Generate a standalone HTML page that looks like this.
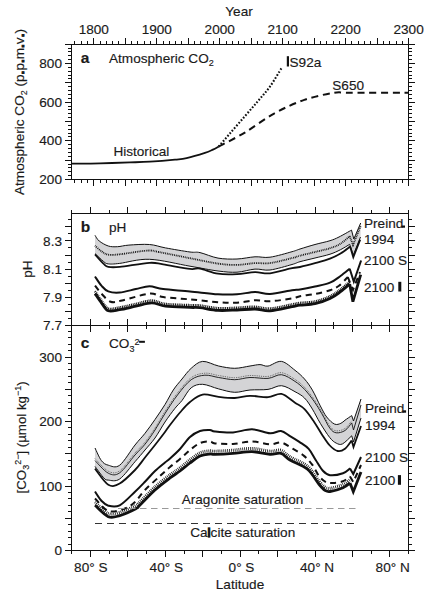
<!DOCTYPE html>
<html><head><meta charset="utf-8"><style>
html,body{margin:0;padding:0;background:#fff;}
svg{display:block;}
text{font-family:"Liberation Sans",sans-serif;fill:#1a1a1a;stroke:#1a1a1a;stroke-width:0.15px;}
</style></head><body>
<svg width="437" height="600" viewBox="0 0 437 600">
<rect width="437" height="600" fill="#fff"/>
<path d="M72,44.5H408 M72,179.5H408 M71.5,44V180 M408.5,44V180 M72,213.5H408 M72,325.5H408 M71.5,214V326 M408.5,214V326 M72,325.5H408 M72,550.5H408 M71.5,326V550 M408.5,326V550 M74.5,41V44 M74.5,180V183 M81.5,41V44 M81.5,180V183 M87.5,41V44 M87.5,180V183 M93.5,38V44 M93.5,180V186 M100.5,41V44 M100.5,180V183 M106.5,41V44 M106.5,180V183 M112.5,41V44 M112.5,180V183 M118.5,41V44 M118.5,180V183 M125.5,38V44 M125.5,180V186 M131.5,41V44 M131.5,180V183 M137.5,41V44 M137.5,180V183 M144.5,41V44 M144.5,180V183 M150.5,41V44 M150.5,180V183 M156.5,38V44 M156.5,180V186 M163.5,41V44 M163.5,180V183 M169.5,41V44 M169.5,180V183 M175.5,41V44 M175.5,180V183 M181.5,41V44 M181.5,180V183 M188.5,38V44 M188.5,180V186 M194.5,41V44 M194.5,180V183 M200.5,41V44 M200.5,180V183 M207.5,41V44 M207.5,180V183 M213.5,41V44 M213.5,180V183 M219.5,38V44 M219.5,180V186 M226.5,41V44 M226.5,180V183 M232.5,41V44 M232.5,180V183 M238.5,41V44 M238.5,180V183 M244.5,41V44 M244.5,180V183 M251.5,38V44 M251.5,180V186 M257.5,41V44 M257.5,180V183 M263.5,41V44 M263.5,180V183 M270.5,41V44 M270.5,180V183 M276.5,41V44 M276.5,180V183 M282.5,38V44 M282.5,180V186 M288.5,41V44 M288.5,180V183 M295.5,41V44 M295.5,180V183 M301.5,41V44 M301.5,180V183 M307.5,41V44 M307.5,180V183 M314.5,38V44 M314.5,180V186 M320.5,41V44 M320.5,180V183 M326.5,41V44 M326.5,180V183 M333.5,41V44 M333.5,180V183 M339.5,41V44 M339.5,180V183 M345.5,38V44 M345.5,180V186 M351.5,41V44 M351.5,180V183 M358.5,41V44 M358.5,180V183 M364.5,41V44 M364.5,180V183 M370.5,41V44 M370.5,180V183 M377.5,38V44 M377.5,180V186 M383.5,41V44 M383.5,180V183 M389.5,41V44 M389.5,180V183 M396.5,41V44 M396.5,180V183 M402.5,41V44 M402.5,180V183 M408.5,38V44 M408.5,180V186 M65,179.5H72 M408,179.5H415 M68,175.5H72 M408,175.5H412 M68,171.5H72 M408,171.5H412 M68,167.5H72 M408,167.5H412 M68,164.5H72 M408,164.5H412 M65,160.5H72 M408,160.5H415 M68,156.5H72 M408,156.5H412 M68,152.5H72 M408,152.5H412 M68,148.5H72 M408,148.5H412 M68,144.5H72 M408,144.5H412 M65,140.5H72 M408,140.5H415 M68,136.5H72 M408,136.5H412 M68,133.5H72 M408,133.5H412 M68,129.5H72 M408,129.5H412 M68,125.5H72 M408,125.5H412 M65,121.5H72 M408,121.5H415 M68,117.5H72 M408,117.5H412 M68,113.5H72 M408,113.5H412 M68,109.5H72 M408,109.5H412 M68,106.5H72 M408,106.5H412 M65,102.5H72 M408,102.5H415 M68,98.5H72 M408,98.5H412 M68,94.5H72 M408,94.5H412 M68,90.5H72 M408,90.5H412 M68,86.5H72 M408,86.5H412 M65,82.5H72 M408,82.5H415 M68,78.5H72 M408,78.5H412 M68,75.5H72 M408,75.5H412 M68,71.5H72 M408,71.5H412 M68,67.5H72 M408,67.5H412 M65,63.5H72 M408,63.5H415 M68,59.5H72 M408,59.5H412 M68,55.5H72 M408,55.5H412 M68,51.5H72 M408,51.5H412 M68,48.5H72 M408,48.5H412 M65,44.5H72 M408,44.5H415 M71.5,210V214 M71.5,322V329 M71.5,550V554 M90.5,207V214 M90.5,319V332 M90.5,550V557 M109.5,210V214 M109.5,322V329 M109.5,550V554 M127.5,207V214 M127.5,319V332 M127.5,550V557 M146.5,210V214 M146.5,322V329 M146.5,550V554 M165.5,207V214 M165.5,319V332 M165.5,550V557 M184.5,210V214 M184.5,322V329 M184.5,550V554 M202.5,207V214 M202.5,319V332 M202.5,550V557 M221.5,210V214 M221.5,322V329 M221.5,550V554 M240.5,207V214 M240.5,319V332 M240.5,550V557 M258.5,210V214 M258.5,322V329 M258.5,550V554 M277.5,207V214 M277.5,319V332 M277.5,550V557 M296.5,210V214 M296.5,322V329 M296.5,550V554 M315.5,207V214 M315.5,319V332 M315.5,550V557 M333.5,210V214 M333.5,322V329 M333.5,550V554 M352.5,207V214 M352.5,319V332 M352.5,550V557 M371.5,210V214 M371.5,322V329 M371.5,550V554 M389.5,207V214 M389.5,319V332 M389.5,550V557 M408.5,210V214 M408.5,322V329 M408.5,550V554 M65,325.5H72 M408,325.5H415 M68,318.5H72 M408,318.5H412 M65,311.5H72 M408,311.5H415 M68,304.5H72 M408,304.5H412 M65,297.5H72 M408,297.5H415 M68,290.5H72 M408,290.5H412 M65,283.5H72 M408,283.5H415 M68,276.5H72 M408,276.5H412 M65,269.5H72 M408,269.5H415 M68,262.5H72 M408,262.5H412 M65,255.5H72 M408,255.5H415 M68,247.5H72 M408,247.5H412 M65,240.5H72 M408,240.5H415 M68,233.5H72 M408,233.5H412 M65,226.5H72 M408,226.5H415 M68,219.5H72 M408,219.5H412 M65,550.5H72 M408,550.5H415 M68,544.5H72 M408,544.5H412 M68,537.5H72 M408,537.5H412 M68,531.5H72 M408,531.5H412 M68,524.5H72 M408,524.5H412 M65,518.5H72 M408,518.5H415 M68,511.5H72 M408,511.5H412 M68,505.5H72 M408,505.5H412 M68,498.5H72 M408,498.5H412 M68,492.5H72 M408,492.5H412 M65,486.5H72 M408,486.5H415 M68,479.5H72 M408,479.5H412 M68,473.5H72 M408,473.5H412 M68,466.5H72 M408,466.5H412 M68,460.5H72 M408,460.5H412 M65,453.5H72 M408,453.5H415 M68,447.5H72 M408,447.5H412 M68,440.5H72 M408,440.5H412 M68,434.5H72 M408,434.5H412 M68,427.5H72 M408,427.5H412 M65,421.5H72 M408,421.5H415 M68,415.5H72 M408,415.5H412 M68,408.5H72 M408,408.5H412 M68,402.5H72 M408,402.5H412 M68,395.5H72 M408,395.5H412 M65,389.5H72 M408,389.5H415 M68,382.5H72 M408,382.5H412 M68,376.5H72 M408,376.5H412 M68,369.5H72 M408,369.5H412 M68,363.5H72 M408,363.5H412 M65,357.5H72 M408,357.5H415 M68,350.5H72 M408,350.5H412 M68,344.5H72 M408,344.5H412 M68,337.5H72 M408,337.5H412 M68,331.5H72 M408,331.5H412" fill="none" stroke="#111" stroke-width="1"/>
<path d="M72,163.6 C76.67,163.55 90.33,163.5 100,163.3 C109.67,163.1 121.67,162.68 130,162.4 C138.33,162.12 142.5,162.07 150,161.6 C157.5,161.13 168.9,160.18 175,159.6 C181.1,159.02 181.62,159.22 186.6,158.1 C191.58,156.98 200.52,154.32 204.9,152.9 C209.28,151.48 210.62,150.65 212.9,149.6 C215.18,148.55 217.65,147.1 218.6,146.6" fill="none" stroke="#111" stroke-width="1.8"/>
<path d="M218.6,146.6 C220.5,144.4 225.63,138.45 230,133.4 C234.37,128.35 240.13,121.7 244.8,116.3 C249.47,110.9 253.8,105.97 258,101 C262.2,96.03 266.05,92.03 270,86.5 C273.95,80.97 279.75,70.92 281.7,67.8" fill="none" stroke="#111" stroke-width="2.1" stroke-dasharray="1.7 1.7"/>
<path d="M218.6,146.6 C222.97,144.27 235.48,138.15 244.8,132.6 C254.12,127.05 264.58,118.75 274.5,113.3 C284.42,107.85 294.38,103.32 304.3,99.9 C314.22,96.48 326.38,93.98 334,92.8 C341.62,91.62 337.5,92.8 350,92.8 C362.5,92.8 399.17,92.8 409,92.8" fill="none" stroke="#111" stroke-width="2" stroke-dasharray="7 4.7"/>
<path d="M95,235.3 C95.7,236.25 96.98,239.22 99.2,241 C101.42,242.78 105.25,245.05 108.3,246 C111.35,246.95 114.07,246.85 117.5,246.7 C120.93,246.55 123.57,245.47 128.9,245.1 C134.23,244.73 143.4,244.03 149.5,244.5 C155.6,244.97 158.75,246.65 165.5,247.9 C172.25,249.15 184.25,251.22 190,252 C195.75,252.78 195.33,251.58 200,252.6 C204.67,253.62 211.83,257.03 218,258.1 C224.17,259.17 230.83,259.22 237,259 C243.17,258.78 249.5,257.1 255,256.8 C260.5,256.5 263.83,258.05 270,257.2 C276.17,256.35 287,253.07 292,251.7 C297,250.33 296.17,250.2 300,249 C303.83,247.8 310,245.88 315,244.5 C320,243.12 326,241.95 330,240.7 C334,239.45 335.42,238.77 339,237 C342.58,235.23 349.42,231.25 351.5,230.1 L353.8,239 L360.7,223 L360.5,237 L353.3,255 L349.7,244.3 L349.7,244.3 C348.17,245.2 343.78,248.05 340.5,249.7 C337.22,251.35 334.25,252.82 330,254.2 C325.75,255.58 320,256.75 315,258 C310,259.25 303.83,260.62 300,261.7 C296.17,262.78 297,263.12 292,264.5 C287,265.88 276.17,269.23 270,270 C263.83,270.77 260.5,268.73 255,269.1 C249.5,269.47 243.17,271.88 237,272.2 C230.83,272.52 225.83,272 218,271 C210.17,270 201.42,268.15 190,266.2 C178.58,264.25 161.22,259.77 149.5,259.3 C137.78,258.83 126.57,262.63 119.7,263.4 C112.83,264.17 110.97,264.2 108.3,263.9 C105.63,263.6 105.92,263.32 103.7,261.6 C101.48,259.88 96.45,254.93 95,253.6 Z" fill="#d4d4d6" stroke="none"/>
<path d="M95,235.3 C95.7,236.25 96.98,239.22 99.2,241 C101.42,242.78 105.25,245.05 108.3,246 C111.35,246.95 114.07,246.85 117.5,246.7 C120.93,246.55 123.57,245.47 128.9,245.1 C134.23,244.73 143.4,244.03 149.5,244.5 C155.6,244.97 158.75,246.65 165.5,247.9 C172.25,249.15 184.25,251.22 190,252 C195.75,252.78 195.33,251.58 200,252.6 C204.67,253.62 211.83,257.03 218,258.1 C224.17,259.17 230.83,259.22 237,259 C243.17,258.78 249.5,257.1 255,256.8 C260.5,256.5 263.83,258.05 270,257.2 C276.17,256.35 287,253.07 292,251.7 C297,250.33 296.17,250.2 300,249 C303.83,247.8 310,245.88 315,244.5 C320,243.12 326,241.95 330,240.7 C334,239.45 335.42,238.77 339,237 C342.58,235.23 349.42,231.25 351.5,230.1 M351.5,230.1 L353.8,239 L360.7,223" fill="none" stroke="#111" stroke-width="1" stroke-linejoin="miter"/>
<path d="M95,253.6 C96.45,254.93 101.48,259.88 103.7,261.6 C105.92,263.32 105.63,263.6 108.3,263.9 C110.97,264.2 112.83,264.17 119.7,263.4 C126.57,262.63 137.78,258.83 149.5,259.3 C161.22,259.77 178.58,264.25 190,266.2 C201.42,268.15 210.17,270 218,271 C225.83,272 230.83,272.52 237,272.2 C243.17,271.88 249.5,269.47 255,269.1 C260.5,268.73 263.83,270.77 270,270 C276.17,269.23 287,265.88 292,264.5 C297,263.12 296.17,262.78 300,261.7 C303.83,260.62 310,259.25 315,258 C320,256.75 325.75,255.58 330,254.2 C334.25,252.82 337.22,251.35 340.5,249.7 C343.78,248.05 348.17,245.2 349.7,244.3 M349.7,244.3 L353.3,255 L360.5,237" fill="none" stroke="#111" stroke-width="1" stroke-linejoin="miter"/>
<path d="M95,245.6 C96.07,246.55 99.18,249.78 101.4,251.3 C103.62,252.82 105.25,254.2 108.3,254.7 C111.35,255.2 113.22,254.98 119.7,254.3 C126.18,253.62 140.72,250.98 147.2,250.6 C153.68,250.22 151.47,250.73 158.6,252 C165.73,253.27 180.1,256.27 190,258.2 C199.9,260.13 210.17,262.48 218,263.6 C225.83,264.72 230.83,264.98 237,264.9 C243.17,264.82 249.5,263.4 255,263.1 C260.5,262.8 263.83,263.93 270,263.1 C276.17,262.27 287,259.33 292,258.1 C297,256.87 296.17,256.72 300,255.7 C303.83,254.68 310,253.25 315,252 C320,250.75 325.75,249.58 330,248.2 C334.25,246.82 337.22,245.72 340.5,243.7 C343.78,241.68 348.17,237.37 349.7,236.1 M349.7,236.1 L353,245 L360.7,226" fill="none" stroke="#111" stroke-width="1.8" stroke-linejoin="miter" stroke-dasharray="0.9 0.9"/>
<path d="M95,254.3 C96.45,255.9 101.48,261.8 103.7,263.9 C105.92,266 105.63,266.4 108.3,266.9 C110.97,267.4 112.83,267.58 119.7,266.9 C126.57,266.22 142.25,263.22 149.5,262.8 C156.75,262.38 156.45,263.38 163.2,264.4 C169.95,265.42 183.87,268.2 190,268.9 C196.13,269.6 195.33,267.8 200,268.6 C204.67,269.4 211.83,272.78 218,273.7 C224.17,274.62 230.83,274.35 237,274.1 C243.17,273.85 249.5,272.33 255,272.2 C260.5,272.07 263.83,273.97 270,273.3 C276.17,272.63 287,269.25 292,268.2 C297,267.15 296.17,267.83 300,267 C303.83,266.17 310,264.58 315,263.2 C320,261.82 325.75,260.32 330,258.7 C334.25,257.08 337.15,255.52 340.5,253.5 C343.85,251.48 348.5,247.75 350.1,246.6 M350.1,246.6 L353.3,257.2 L360.2,239.7" fill="none" stroke="#111" stroke-width="1.8" stroke-linejoin="miter"/>
<path d="M95,276.5 C96.07,278.02 99.18,283.12 101.4,285.6 C103.62,288.08 105.25,290.25 108.3,291.4 C111.35,292.55 115.12,292.88 119.7,292.5 C124.28,292.12 130.83,290.13 135.8,289.1 C140.77,288.07 144.93,286.3 149.5,286.3 C154.07,286.3 156.45,288.25 163.2,289.1 C169.95,289.95 180.87,290.53 190,291.4 C199.13,292.27 210.17,293.82 218,294.3 C225.83,294.78 230.83,294.68 237,294.3 C243.17,293.92 249.5,292.07 255,292 C260.5,291.93 263.83,294.2 270,293.9 C276.17,293.6 287,290.93 292,290.2 C297,289.47 296.17,290.12 300,289.5 C303.83,288.88 310,287.63 315,286.5 C320,285.37 325.75,284.45 330,282.7 C334.25,280.95 337.22,278.33 340.5,276 C343.78,273.67 348.17,269.92 349.7,268.7 M349.7,268.7 L353.8,281.6 L361.1,260.5" fill="none" stroke="#111" stroke-width="2" stroke-linejoin="miter"/>
<path d="M95,285.6 C96.07,286.93 98.8,290.92 101.4,293.6 C104,296.28 107.17,300.55 110.6,301.7 C114.03,302.85 115.52,301.85 122,300.5 C128.48,299.15 142.63,294.17 149.5,293.6 C156.37,293.03 156.45,296.13 163.2,297.1 C169.95,298.07 180.87,298.55 190,299.4 C199.13,300.25 210.17,301.65 218,302.2 C225.83,302.75 230.83,303.02 237,302.7 C243.17,302.38 249.5,300.55 255,300.3 C260.5,300.05 263.83,301.5 270,301.2 C276.17,300.9 287,299.33 292,298.5 C297,297.67 296.17,296.95 300,296.2 C303.83,295.45 310,295 315,294 C320,293 326,291.58 330,290.2 C334,288.82 336.03,287.9 339,285.7 C341.97,283.5 346.33,278.45 347.8,277 M347.8,277 L353,290 L360,272" fill="none" stroke="#111" stroke-width="2" stroke-linejoin="miter" stroke-dasharray="6 4.5"/>
<path d="M95,293.6 C96.07,295.13 99.18,299.93 101.4,302.8 C103.62,305.67 105.25,309.65 108.3,310.8 C111.35,311.95 115.12,310.47 119.7,309.7 C124.28,308.93 130.45,307.35 135.8,306.2 C141.15,305.05 146.85,302.8 151.8,302.8 C156.75,302.8 159.13,305.43 165.5,306.2 C171.87,306.97 184.25,307.15 190,307.4 C195.75,307.65 195.33,307.2 200,307.7 C204.67,308.2 211.83,310.02 218,310.4 C224.17,310.78 230.83,310.23 237,310 C243.17,309.77 249.5,308.87 255,309 C260.5,309.13 263.83,311.18 270,310.8 C276.17,310.42 287,307.63 292,306.7 C297,305.77 296.17,305.7 300,305.2 C303.83,304.7 310,304.82 315,303.7 C320,302.58 325.75,300.5 330,298.5 C334.25,296.5 337.22,294.13 340.5,291.7 C343.78,289.27 348.17,285.2 349.7,283.9 M349.7,283.9 L352.9,301.7 L360.7,274.7" fill="none" stroke="#111" stroke-width="2.8" stroke-linejoin="miter"/>
<path d="M95,291.3 C96.07,292.83 99.18,297.63 101.4,300.5 C103.62,303.37 105.25,307.35 108.3,308.5 C111.35,309.65 115.12,308.17 119.7,307.4 C124.28,306.63 130.45,305.05 135.8,303.9 C141.15,302.75 146.85,300.5 151.8,300.5 C156.75,300.5 159.13,303.13 165.5,303.9 C171.87,304.67 184.25,304.85 190,305.1 C195.75,305.35 195.33,304.9 200,305.4 C204.67,305.9 211.83,307.72 218,308.1 C224.17,308.48 230.83,307.93 237,307.7 C243.17,307.47 249.5,306.57 255,306.7 C260.5,306.83 263.83,308.88 270,308.5 C276.17,308.12 287,305.33 292,304.4 C297,303.47 296.17,303.4 300,302.9 C303.83,302.4 310,302.52 315,301.4 C320,300.28 325.75,298.2 330,296.2 C334.25,294.2 337.22,291.83 340.5,289.4 C343.78,286.97 348.17,282.9 349.7,281.6" fill="none" stroke="#111" stroke-width="2.4" stroke-linejoin="miter" stroke-dasharray="1 0.8"/>
<path d="M95,448 C96.07,450.1 99.18,457.73 101.4,460.6 C103.62,463.47 105.25,464.43 108.3,465.2 C111.35,465.97 115.25,468.57 119.7,465.2 C124.15,461.83 130.78,450.32 135,445 C139.22,439.68 141.67,437.55 145,433.3 C148.33,429.05 151.67,424.3 155,419.5 C158.33,414.7 161.95,409.42 165,404.5 C168.05,399.58 170.47,394.25 173.3,390 C176.13,385.75 179.02,382.62 182,379 C184.98,375.38 187.77,371.23 191.2,368.3 C194.63,365.37 198.03,361.78 202.6,361.4 C207.17,361.02 213.25,364.85 218.6,366 C223.95,367.15 229.47,368.3 234.7,368.3 C239.93,368.3 245.78,366.62 250,366 C254.22,365.38 257,364.58 260,364.6 C263,364.62 264.42,366.63 268,366.1 C271.58,365.57 277,360.7 281.5,361.4 C286,362.1 291.17,367.37 295,370.3 C298.83,373.23 301.6,375.7 304.5,379 C307.4,382.3 309.77,385.62 312.4,390.1 C315.03,394.58 317.92,401.42 320.3,405.9 C322.68,410.38 324.32,413.97 326.7,417 C329.08,420.03 332.23,423.05 334.6,424.1 C336.97,425.15 339.17,423.95 340.9,423.3 C342.63,422.65 343.2,421.48 345,420.2 C346.8,418.92 350.58,416.37 351.7,415.6 L353.5,421 L361,399 L361,418 L353.5,442 L351.7,435.8 L351.7,435.8 C350.17,437.15 345.08,442.68 342.5,443.9 C339.92,445.12 338.32,444.15 336.2,443.1 C334.08,442.05 332.45,440.9 329.8,437.6 C327.15,434.3 323.2,428.05 320.3,423.3 C317.4,418.55 315.03,413.32 312.4,409.1 C309.77,404.88 307.4,400.9 304.5,398 C301.6,395.1 298.83,393.75 295,391.7 C291.17,389.65 286,386.08 281.5,385.7 C277,385.32 273.25,388.68 268,389.4 C262.75,390.12 255.55,389.52 250,390 C244.45,390.48 239.93,392.48 234.7,392.3 C229.47,392.12 223.95,390.23 218.6,388.9 C213.25,387.57 207.17,384.48 202.6,384.3 C198.03,384.12 194.63,385.1 191.2,387.8 C187.77,390.5 184.7,397.08 182,400.5 C179.3,403.92 177.83,404.72 175,408.3 C172.17,411.88 168.33,417.05 165,422 C161.67,426.95 158.33,433.33 155,438 C151.67,442.67 148.33,446.05 145,450 C141.67,453.95 139.22,456.87 135,461.7 C130.78,466.53 124.15,475.93 119.7,479 C115.25,482.07 110.97,480.3 108.3,480.1 C105.63,479.9 105.92,480.08 103.7,477.8 C101.48,475.52 96.45,468.3 95,466.4 Z" fill="#d4d4d6" stroke="none"/>
<path d="M95,448 C96.07,450.1 99.18,457.73 101.4,460.6 C103.62,463.47 105.25,464.43 108.3,465.2 C111.35,465.97 115.25,468.57 119.7,465.2 C124.15,461.83 130.78,450.32 135,445 C139.22,439.68 141.67,437.55 145,433.3 C148.33,429.05 151.67,424.3 155,419.5 C158.33,414.7 161.95,409.42 165,404.5 C168.05,399.58 170.47,394.25 173.3,390 C176.13,385.75 179.02,382.62 182,379 C184.98,375.38 187.77,371.23 191.2,368.3 C194.63,365.37 198.03,361.78 202.6,361.4 C207.17,361.02 213.25,364.85 218.6,366 C223.95,367.15 229.47,368.3 234.7,368.3 C239.93,368.3 245.78,366.62 250,366 C254.22,365.38 257,364.58 260,364.6 C263,364.62 264.42,366.63 268,366.1 C271.58,365.57 277,360.7 281.5,361.4 C286,362.1 291.17,367.37 295,370.3 C298.83,373.23 301.6,375.7 304.5,379 C307.4,382.3 309.77,385.62 312.4,390.1 C315.03,394.58 317.92,401.42 320.3,405.9 C322.68,410.38 324.32,413.97 326.7,417 C329.08,420.03 332.23,423.05 334.6,424.1 C336.97,425.15 339.17,423.95 340.9,423.3 C342.63,422.65 343.2,421.48 345,420.2 C346.8,418.92 350.58,416.37 351.7,415.6 M351.7,415.6 L353.5,421 L361,399" fill="none" stroke="#111" stroke-width="1" stroke-linejoin="miter"/>
<path d="M95,466.4 C96.45,468.3 101.48,475.52 103.7,477.8 C105.92,480.08 105.63,479.9 108.3,480.1 C110.97,480.3 115.25,482.07 119.7,479 C124.15,475.93 130.78,466.53 135,461.7 C139.22,456.87 141.67,453.95 145,450 C148.33,446.05 151.67,442.67 155,438 C158.33,433.33 161.67,426.95 165,422 C168.33,417.05 172.17,411.88 175,408.3 C177.83,404.72 179.3,403.92 182,400.5 C184.7,397.08 187.77,390.5 191.2,387.8 C194.63,385.1 198.03,384.12 202.6,384.3 C207.17,384.48 213.25,387.57 218.6,388.9 C223.95,390.23 229.47,392.12 234.7,392.3 C239.93,392.48 244.45,390.48 250,390 C255.55,389.52 262.75,390.12 268,389.4 C273.25,388.68 277,385.32 281.5,385.7 C286,386.08 291.17,389.65 295,391.7 C298.83,393.75 301.6,395.1 304.5,398 C307.4,400.9 309.77,404.88 312.4,409.1 C315.03,413.32 317.4,418.55 320.3,423.3 C323.2,428.05 327.15,434.3 329.8,437.6 C332.45,440.9 334.08,442.05 336.2,443.1 C338.32,444.15 339.92,445.12 342.5,443.9 C345.08,442.68 350.17,437.15 351.7,435.8 M351.7,435.8 L353.5,442 L361,418" fill="none" stroke="#111" stroke-width="1" stroke-linejoin="miter"/>
<path d="M95,460.6 C97.22,462.7 104.18,471.17 108.3,473.2 C112.42,475.23 115.25,475.83 119.7,472.8 C124.15,469.77 130.78,459.77 135,455 C139.22,450.23 141.67,448.37 145,444.2 C148.33,440.03 151.67,435.12 155,430 C158.33,424.88 161.25,419.33 165,413.5 C168.75,407.67 173.13,400.63 177.5,395 C181.87,389.37 186.63,383 191.2,379.7 C195.77,376.4 200.33,375.57 204.9,375.2 C209.47,374.83 213.63,376.75 218.6,377.5 C223.57,378.25 229.47,379.7 234.7,379.7 C239.93,379.7 244.45,377.72 250,377.5 C255.55,377.28 262.75,378.87 268,378.4 C273.25,377.93 277,374.2 281.5,374.7 C286,375.2 291.17,378.97 295,381.4 C298.83,383.83 301.33,386 304.5,389.3 C307.67,392.6 311.1,397.12 314,401.2 C316.9,405.28 319.27,409.32 321.9,413.8 C324.53,418.28 327.42,424.93 329.8,428.1 C332.18,431.27 333.67,432.4 336.2,432.8 C338.73,433.2 342.42,432.15 345,430.5 C347.58,428.85 350.58,424.17 351.7,422.9 M351.7,422.9 L353.5,430 L361,405" fill="none" stroke="#111" stroke-width="0.9" stroke-linejoin="miter"/>
<path d="M95,458.6 C97.22,460.7 104.18,469.17 108.3,471.2 C112.42,473.23 115.25,473.83 119.7,470.8 C124.15,467.77 130.78,457.77 135,453 C139.22,448.23 141.67,446.37 145,442.2 C148.33,438.03 151.67,433.12 155,428 C158.33,422.88 161.25,417.33 165,411.5 C168.75,405.67 173.13,398.63 177.5,393 C181.87,387.37 186.63,381 191.2,377.7 C195.77,374.4 200.33,373.57 204.9,373.2 C209.47,372.83 213.63,374.75 218.6,375.5 C223.57,376.25 229.47,377.7 234.7,377.7 C239.93,377.7 244.45,375.72 250,375.5 C255.55,375.28 262.75,376.87 268,376.4 C273.25,375.93 277,372.2 281.5,372.7 C286,373.2 291.17,376.97 295,379.4 C298.83,381.83 301.33,384 304.5,387.3 C307.67,390.6 311.1,395.12 314,399.2 C316.9,403.28 319.27,407.32 321.9,411.8 C324.53,416.28 327.42,422.93 329.8,426.1 C332.18,429.27 333.67,430.4 336.2,430.8 C338.73,431.2 342.42,430.15 345,428.5 C347.58,426.85 350.58,422.17 351.7,420.9" fill="none" stroke="#555" stroke-width="1" stroke-linejoin="miter" stroke-dasharray="0.8 1"/>
<path d="M95,468.6 C97.22,471.28 104.18,482.22 108.3,484.7 C112.42,487.18 115.25,485.95 119.7,483.5 C124.15,481.05 130.78,474.33 135,470 C139.22,465.67 141.67,461.67 145,457.5 C148.33,453.33 151.67,449.25 155,445 C158.33,440.75 162.5,435.33 165,432 C167.5,428.67 167.5,428.25 170,425 C172.5,421.75 176.67,416.33 180,412.5 C183.33,408.67 186.23,404.98 190,402 C193.77,399.02 197.83,395.45 202.6,394.6 C207.37,393.75 213.25,396.33 218.6,396.9 C223.95,397.47 229.47,398.18 234.7,398 C239.93,397.82 244.45,395.93 250,395.8 C255.55,395.67 262.75,397.52 268,397.2 C273.25,396.88 277,392.98 281.5,393.9 C286,394.82 291.17,400.17 295,402.7 C298.83,405.23 301.33,405.93 304.5,409.1 C307.67,412.27 311.1,417.48 314,421.7 C316.9,425.92 319.27,430.43 321.9,434.4 C324.53,438.37 327.17,442.73 329.8,445.5 C332.43,448.27 335.17,450.47 337.7,451 C340.23,451.53 342.67,450.47 345,448.7 C347.33,446.93 350.58,441.78 351.7,440.4 M351.7,440.4 L353.5,447 L361,426" fill="none" stroke="#111" stroke-width="1.8" stroke-linejoin="miter"/>
<path d="M95,491.5 C96.07,493.03 99.18,498.33 101.4,500.7 C103.62,503.07 105.25,504.93 108.3,505.7 C111.35,506.47 115.25,507.63 119.7,505.3 C124.15,502.97 130.78,495.63 135,491.7 C139.22,487.77 141.67,485.15 145,481.7 C148.33,478.25 151.67,474.2 155,471 C158.33,467.8 162.5,464.58 165,462.5 C167.5,460.42 167.5,460.75 170,458.5 C172.5,456.25 176.67,452.58 180,449 C183.33,445.42 186.67,440 190,437 C193.33,434 196.67,432.17 200,431 C203.33,429.83 207.5,429.92 210,430 C212.5,430.08 211.17,431.1 215,431.5 C218.83,431.9 226.83,432.77 233,432.4 C239.17,432.03 245.83,429.15 252,429.3 C258.17,429.45 265.17,433 270,433.3 C274.83,433.6 277.67,430.63 281,431.1 C284.33,431.57 286.95,434.3 290,436.1 C293.05,437.9 296.18,439.77 299.3,441.9 C302.42,444.03 305.97,445.88 308.7,448.9 C311.43,451.92 313.37,456.4 315.7,460 C318.03,463.6 320.32,467.97 322.7,470.5 C325.08,473.03 326.62,474.75 330,475.2 C333.38,475.65 339.67,474.33 343,473.2 C346.33,472.07 348.83,469.2 350,468.4 M350,468.4 L353.3,474 L361,457" fill="none" stroke="#111" stroke-width="2" stroke-linejoin="miter"/>
<path d="M95,498.4 C97.22,500.5 103.42,509.28 108.3,511 C113.18,512.72 119.85,510.2 124.3,508.7 C128.75,507.2 131.55,505.12 135,502 C138.45,498.88 140.83,494.33 145,490 C149.17,485.67 155.83,479.83 160,476 C164.17,472.17 166.67,469.83 170,467 C173.33,464.17 176.67,461.83 180,459 C183.33,456.17 186.67,452.67 190,450 C193.33,447.33 196.67,444.42 200,443 C203.33,441.58 207.5,441.43 210,441.5 C212.5,441.57 211.17,443 215,443.4 C218.83,443.8 226.83,444.22 233,443.9 C239.17,443.58 245.83,441.43 252,441.5 C258.17,441.57 265.17,444.13 270,444.3 C274.83,444.47 277.47,441.92 281,442.5 C284.53,443.08 287.37,445.57 291.2,447.8 C295.03,450.03 300.5,453.08 304,455.9 C307.5,458.72 309.67,461.3 312.2,464.7 C314.73,468.1 316.87,473.38 319.2,476.3 C321.53,479.22 323.9,481.08 326.2,482.2 C328.5,483.32 330.2,483.15 333,483 C335.8,482.85 340.17,482.38 343,481.3 C345.83,480.22 348.83,477.3 350,476.5 M350,476.5 L353.3,482 L361,465" fill="none" stroke="#111" stroke-width="2" stroke-linejoin="miter" stroke-dasharray="6 4.5"/>
<path d="M95,505.3 C97.22,507.2 104.18,514.98 108.3,516.7 C112.42,518.42 115.12,516.93 119.7,515.6 C124.28,514.27 132.42,510.47 135.8,508.7 C139.18,506.93 136.8,508.12 140,505 C143.2,501.88 150,494.5 155,490 C160,485.5 165.83,481.17 170,478 C174.17,474.83 176.67,473.5 180,471 C183.33,468.5 186.67,465.5 190,463 C193.33,460.5 196.67,457.5 200,456 C203.33,454.5 207.5,454.27 210,454 C212.5,453.73 211.17,454.5 215,454.4 C218.83,454.3 226.83,453.87 233,453.4 C239.17,452.93 245.83,451.43 252,451.6 C258.17,451.77 265.17,454.1 270,454.4 C274.83,454.7 277.67,452.47 281,453.4 C284.33,454.33 285.58,457.35 290,460 C294.42,462.65 302.63,465.22 307.5,469.3 C312.37,473.38 316.28,481 319.2,484.5 C322.12,488 323.2,489.13 325,490.3 C326.8,491.47 327,491.93 330,491.5 C333,491.07 339.67,489.13 343,487.7 C346.33,486.27 348.83,483.7 350,482.9 M350,482.9 L353.3,491.7 L361,472" fill="none" stroke="#111" stroke-width="2.8" stroke-linejoin="miter"/>
<path d="M95,502.1 C97.22,504 104.18,511.78 108.3,513.5 C112.42,515.22 115.12,513.73 119.7,512.4 C124.28,511.07 132.42,507.27 135.8,505.5 C139.18,503.73 136.8,504.92 140,501.8 C143.2,498.68 150,491.3 155,486.8 C160,482.3 165.83,477.97 170,474.8 C174.17,471.63 176.67,470.3 180,467.8 C183.33,465.3 186.67,462.3 190,459.8 C193.33,457.3 196.67,454.3 200,452.8 C203.33,451.3 207.5,451.07 210,450.8 C212.5,450.53 211.17,451.3 215,451.2 C218.83,451.1 226.83,450.67 233,450.2 C239.17,449.73 245.83,448.23 252,448.4 C258.17,448.57 265.17,450.9 270,451.2 C274.83,451.5 277.67,449.27 281,450.2 C284.33,451.13 285.58,454.15 290,456.8 C294.42,459.45 302.63,462.02 307.5,466.1 C312.37,470.18 316.28,477.8 319.2,481.3 C322.12,484.8 323.2,485.93 325,487.1 C326.8,488.27 327,488.73 330,488.3 C333,487.87 339.67,485.93 343,484.5 C346.33,483.07 348.83,480.5 350,479.7" fill="none" stroke="#111" stroke-width="3" stroke-linejoin="miter" stroke-dasharray="0.8 1.1"/>
<path d="M118,508.5 H358" fill="none" stroke="#999" stroke-width="1.1" stroke-dasharray="6.5 4.5"/>
<path d="M95,523.5 H358" fill="none" stroke="#333" stroke-width="1.2" stroke-dasharray="7 5"/>
<rect x="139.1" y="340.8" width="5.8" height="2" fill="#111"/>
<rect x="401.9" y="225.5" width="3.1" height="2.2" fill="#111"/>
<rect x="402.8" y="410.3" width="3.3" height="2.4" fill="#111"/>
<rect x="398.3" y="281.8" width="3" height="9.7" fill="#111"/>
<rect x="397.9" y="475.1" width="3.1" height="9.7" fill="#111"/>
<rect x="286.8" y="56.2" width="2.2" height="10.3" fill="#111"/>
<text x="93.8" y="34" font-size="13.6" text-anchor="middle">1800</text>
<text x="156.76" y="34" font-size="13.6" text-anchor="middle">1900</text>
<text x="219.72" y="34" font-size="13.6" text-anchor="middle">2000</text>
<text x="282.68" y="34" font-size="13.6" text-anchor="middle">2100</text>
<text x="345.64" y="34" font-size="13.6" text-anchor="middle">2200</text>
<text x="408.6" y="34" font-size="13.6" text-anchor="middle">2300</text>
<text x="239" y="16" font-size="13.6" text-anchor="middle">Year</text>
<text x="62" y="184.1" font-size="13.6" text-anchor="end">200</text>
<text x="62" y="145.44" font-size="13.6" text-anchor="end">400</text>
<text x="62" y="106.78" font-size="13.6" text-anchor="end">600</text>
<text x="62" y="68.12" font-size="13.6" text-anchor="end">800</text>
<text x="62" y="329.9" font-size="13.6" text-anchor="end">7.7</text>
<text x="62" y="301.78" font-size="13.6" text-anchor="end">7.9</text>
<text x="62" y="273.66" font-size="13.6" text-anchor="end">8.1</text>
<text x="62" y="245.54" font-size="13.6" text-anchor="end">8.3</text>
<text x="62" y="555.1" font-size="13.6" text-anchor="end">0</text>
<text x="62" y="490.6" font-size="13.6" text-anchor="end">100</text>
<text x="62" y="426.1" font-size="13.6" text-anchor="end">200</text>
<text x="62" y="361.6" font-size="13.6" text-anchor="end">300</text>
<text x="90.8" y="571.8" font-size="13.6" text-anchor="middle">80° S</text>
<text x="166.3" y="571.8" font-size="13.6" text-anchor="middle">40° S</text>
<text x="241.5" y="571.8" font-size="13.6" text-anchor="middle">0° S</text>
<text x="317.1" y="571.8" font-size="13.6" text-anchor="middle">40° N</text>
<text x="392.7" y="571.8" font-size="13.6" text-anchor="middle">80° N</text>
<text x="240" y="589.3" font-size="13.6" text-anchor="middle">Latitude</text>
<text x="80.8" y="62.8" font-size="15.5" text-anchor="start" font-weight="bold" stroke="#111" stroke-width="1.0">a</text>
<text x="109" y="62.5" font-size="13.6" text-anchor="start">Atmospheric CO<tspan font-size="9" dy="3">2</tspan></text>
<text x="80.8" y="231.5" font-size="15.5" text-anchor="start" font-weight="bold" stroke="#111" stroke-width="1.0">b</text>
<text x="109" y="231.5" font-size="13.6" text-anchor="start">pH</text>
<text x="80.8" y="348.3" font-size="15.5" text-anchor="start" font-weight="bold" stroke="#111" stroke-width="1.0">c</text>
<text x="109" y="348.3" font-size="13.6" text-anchor="start">CO<tspan font-size="9" dy="3.8">3</tspan><tspan font-size="9" dy="-7.6">2</tspan></text>
<text x="113.4" y="155.8" font-size="13.6" text-anchor="start">Historical</text>
<text x="289.5" y="66.5" font-size="13.6" text-anchor="start">S92a</text>
<text x="332.3" y="89.7" font-size="13.6" text-anchor="start">S650</text>
<text x="364" y="227.6" font-size="13.6" text-anchor="start">Preind</text>
<text x="364" y="244.4" font-size="13.6" text-anchor="start">1994</text>
<text x="364" y="264.5" font-size="13.6" text-anchor="start">2100 S</text>
<text x="364" y="291.5" font-size="13.6" text-anchor="start">2100</text>
<text x="365" y="412.5" font-size="13.6" text-anchor="start">Preind</text>
<text x="365" y="430" font-size="13.6" text-anchor="start">1994</text>
<text x="365" y="462" font-size="13.6" text-anchor="start">2100 S</text>
<text x="365" y="485" font-size="13.6" text-anchor="start">2100</text>
<text x="181.7" y="503.7" font-size="13.6" text-anchor="start">Aragonite saturation</text>
<text x="190.2" y="536.5" font-size="13.6" text-anchor="start">Ca<tspan stroke-width="1.3">l</tspan>cite saturation</text>
<text transform="translate(24.3,112) rotate(-90)" font-size="13.6" text-anchor="middle">Atmospheric CO<tspan font-size="9" dy="3">2</tspan><tspan dy="-3"> (p<tspan font-weight="bold" stroke="#111" stroke-width="0.9">.</tspan>p<tspan font-weight="bold" stroke="#111" stroke-width="0.9">.</tspan>m<tspan font-weight="bold" stroke="#111" stroke-width="0.9">.</tspan>v<tspan font-weight="bold" stroke="#111" stroke-width="0.9">.</tspan>)</tspan></text>
<text transform="translate(32,269) rotate(-90)" font-size="13.6" text-anchor="middle">pH</text>
<text transform="translate(25.5,437.4) rotate(-90)" font-size="13.25" text-anchor="middle">[CO<tspan font-size="9" dy="3">3</tspan><tspan font-size="9" dy="-8">2−</tspan><tspan dy="5">] (µmol kg</tspan><tspan font-size="9" dy="-5">−1</tspan><tspan dy="5">)</tspan></text>
</svg></body></html>
